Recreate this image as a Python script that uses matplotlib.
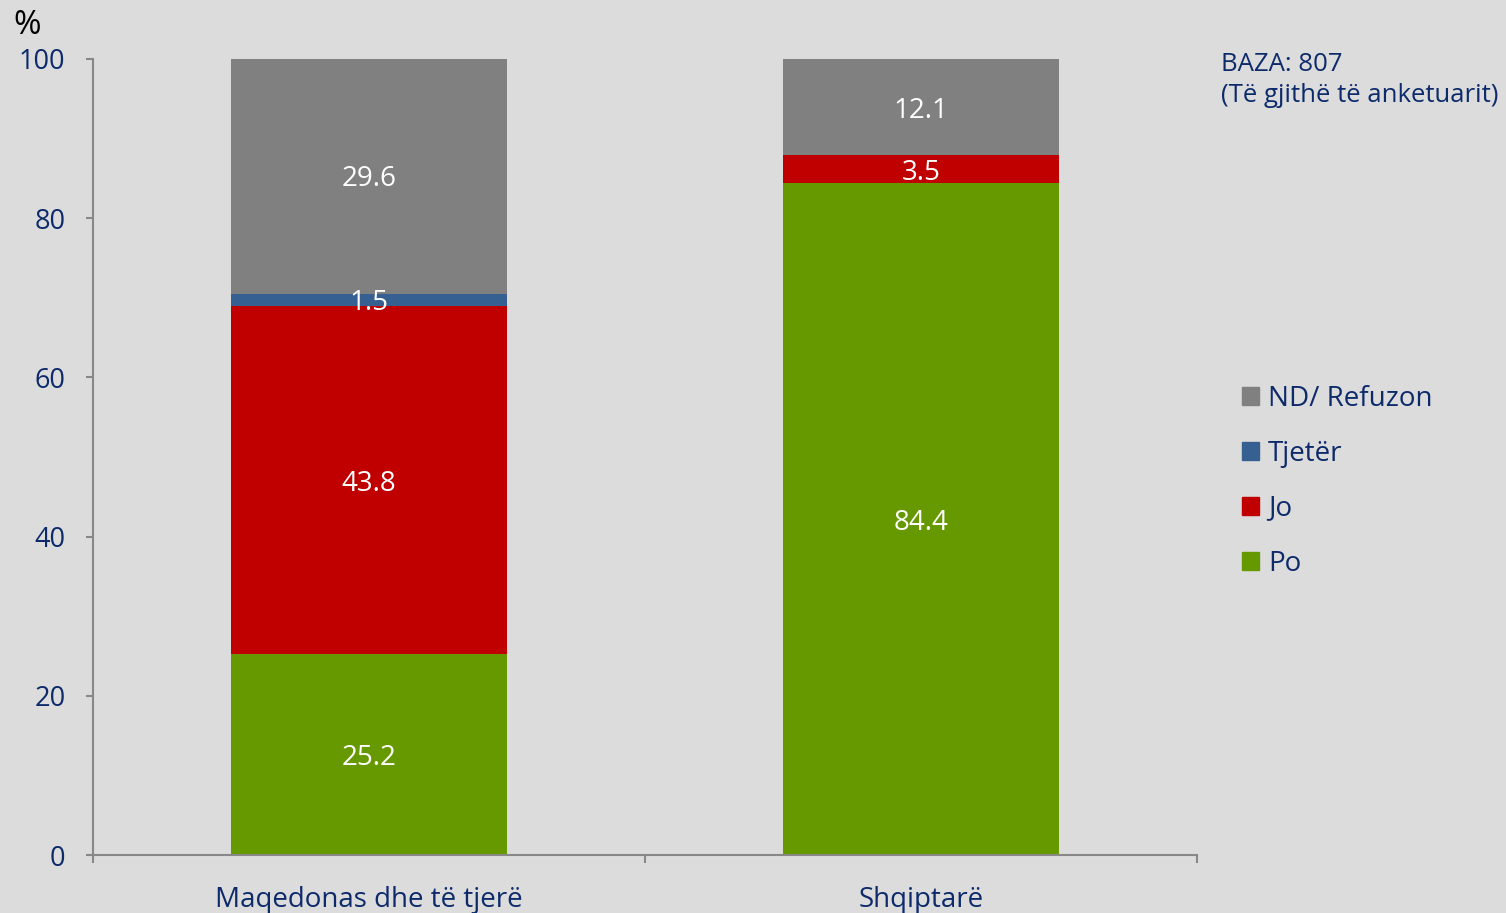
import numpy as np
import matplotlib.pyplot as plt
from matplotlib.patches import Patch

plt.rcParams['font.family'] = ['Open Sans', 'DejaVu Sans']

categories = ['Maqedonas dhe të tjerë', 'Shqiptarë']
po = [25.2, 84.4]
jo = [43.8, 3.5]
tjeter = [1.5, 0.0]
nd = [29.6, 12.1]

series = [('Po', po, '#669900'), ('Jo', jo, '#C00000'),
          ('Tjetër', tjeter, '#376092'), ('ND/ Refuzon', nd, '#808080')]

navy = '#0D2A6B'
bg = '#DCDCDC'

fig = plt.figure(figsize=(15.06, 9.13), dpi=100, facecolor=bg)
ax = fig.add_axes([0.0618, 0.0635, 0.733, 0.8719], facecolor=bg)

x = np.arange(len(categories))
bottom = np.zeros(len(categories))
for name, vals, col in series:
    vals = np.array(vals)
    ax.bar(x, vals, 0.5, bottom=bottom, color=col, label=name)
    for xi, v, b in zip(x, vals, bottom):
        if v > 0:
            ax.text(xi, b + v / 2, f'{v:.1f}', ha='center', va='center_baseline',
                    color='white', fontsize=20)
    bottom += vals

ax.set_xlim(-0.5, 1.5)
ax.set_ylim(0, 100)
ax.set_yticks([0, 20, 40, 60, 80, 100])
ax.set_xticks(x)
ax.set_xticklabels(categories)
ax.set_xticks([-0.5, 0.5, 1.5], minor=True)
ax.tick_params(axis='x', which='major', length=0, pad=22, labelsize=20, labelcolor=navy)
ax.tick_params(axis='x', which='minor', length=6, color='#888888', width=1.5)
ax.tick_params(axis='y', length=5, color='#888888', width=1.5, pad=15,
               labelsize=19.5, labelcolor=navy)
for s in ['top', 'right']:
    ax.spines[s].set_visible(False)
for s in ['left', 'bottom']:
    ax.spines[s].set_color('#888888')
    ax.spines[s].set_linewidth(1.5)

fig.text(0.009, 0.972, '%', fontsize=24, color='black', va='center')
fig.text(0.811, 0.912, 'BAZA: 807\n(Të gjithë të anketuarit)', fontsize=18.5,
         color=navy, va='center', linespacing=1.3)

handles = [Patch(color=col, label=name) for name, vals, col in series[::-1]]
leg = fig.legend(handles=handles, loc='center left', bbox_to_anchor=(0.808, 0.473),
                 frameon=False, fontsize=20, handlelength=0.6, handleheight=0.6,
                 handletextpad=0.35, labelspacing=0.97, labelcolor=navy)

fig.savefig('out.png', dpi=100, facecolor=bg)
